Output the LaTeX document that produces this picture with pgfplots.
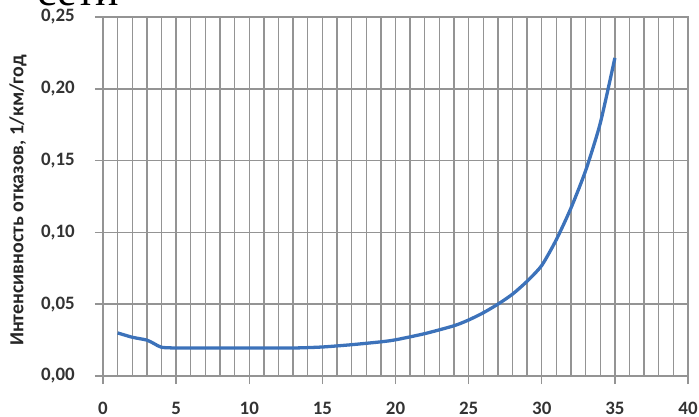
\documentclass[border=0pt]{standalone}
\usepackage{fontspec}
\setmainfont{Carlito}
\newfontfamily\serifru{Liberation Serif}
\usepackage{pgfplots}
\pgfplotsset{compat=1.18}
\definecolor{gridgray}{RGB}{148,148,148}
\definecolor{curveblue}{RGB}{60,114,186}

\begin{document}
\begin{tikzpicture}
\path[use as bounding box] (-103bp,-41bp) rectangle (596bp,376bp);
% cut-off line of the surrounding document text
\node[anchor=base west, inner sep=0pt, font=\serifru\fontsize{44}{48}\selectfont] at (-66bp,370bp) {сети};
\begin{axis}[
    scale only axis,
    width=585bp,
    height=359bp,
    xmin=0, xmax=40,
    ymin=0, ymax=0.25,
    xtick={0,5,...,40},
    minor xtick={0,1,...,40},
    ytick={0,0.05,...,0.25},
    xmajorgrids, xminorgrids, ymajorgrids,
    grid style={gridgray, line width=1.5pt},
    minor grid style={gridgray, line width=1.5pt},
    axis line style={gridgray, line width=1.5pt},
    tick style={gridgray, line width=1.5pt},
    major tick length=8bp,
    minor tick length=0pt,
    tick align=outside,
    xtick pos=bottom,
    ytick pos=left,
    tick label style={font=\fontsize{19}{22}\selectfont\bfseries, text=black!80, inner sep=0pt},
    /pgf/number format/assume math mode=true,
    xticklabel style={yshift=-18bp},
    yticklabel style={xshift=-20bp, /pgf/number format/.cd, fixed, fixed zerofill, precision=2, use comma},
    ylabel={Интенсивность отказов, 1/км/год},
    ylabel style={at={(axis description cs:0,0.5)}, anchor=center, yshift=85bp, xshift=-4bp,
        font=\fontsize{20}{24}\selectfont\bfseries, text=black!85},
    ]
\addplot[curveblue, line width=3.3pt, smooth, tension=0.4] coordinates {
    (1,0.030) (2,0.027) (3,0.025) (3.5,0.0225) (4,0.0200) (5,0.0195)
    (7,0.0195) (10,0.0195) (13,0.0195) (15,0.0202) (17,0.0218)
    (19,0.0238) (20,0.0252) (22,0.0295) (24,0.0350) (25,0.0390)
    (26,0.0440) (27,0.0500) (28,0.0570) (29,0.0660) (30,0.0770)
    (31,0.0950) (32,0.1170) (33,0.1430) (34,0.1760) (35,0.2215)
};
\end{axis}
\end{tikzpicture}
\end{document}
